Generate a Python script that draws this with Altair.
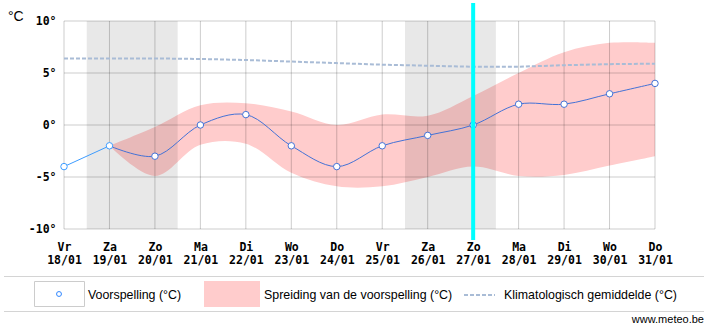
import json
import altair as alt
import pandas as pd

# ---------------- data ----------------
day_names = ["Vr", "Za", "Zo", "Ma", "Di", "Wo", "Do", "Vr", "Za", "Zo", "Ma", "Di", "Wo", "Do"]
day_dates = ["18/01", "19/01", "20/01", "21/01", "22/01", "23/01", "24/01",
             "25/01", "26/01", "27/01", "28/01", "29/01", "30/01", "31/01"]
forecast = [-4, -2, -3, 0, 1, -2, -4, -2, -1, 0, 2, 2, 3, 4]
observed_count = 2
spread_start = 1
spread_low = [-2, -4.9, -1.9, -1.8, -4.6, -5.9, -5.9, -5.0, -4.0, -4.9, -4.8, -3.9, -3.0]
spread_high = [-2, -0.2, 1.9, 2.1, 1.3, 0.0, 1.0, 0.9, 2.8, 5.0, 7.0, 7.9, 7.9]
climate = [6.4, 6.4, 6.4, 6.35, 6.25, 6.1, 5.95, 5.8, 5.7, 5.6, 5.6, 5.75, 5.85, 5.9]
weekend_saturdays = [1, 8]
today_index = 9
y_ticks = [-10, -5, 0, 5, 10]
legend_labels = ["Voorspelling (°C)", "Spreiding van de voorspelling (°C)",
                 "Klimatologisch gemiddelde (°C)"]
unit_label = "°C"
source_label = "www.meteo.be"

# ---------------- styling ----------------
W, H = 591, 208
PINK = "#ffcccc"
LIGHT_BLUE = "#3d9cff"
DARK_BLUE = "#4472d6"
CLIM = "#a9bcd6"
MONO = "DejaVu Sans Mono"
SANS = "Liberation Sans"

idx = list(range(len(day_names)))
n = len(idx)

df_fc = pd.DataFrame({"i": idx, "t": forecast,
                      "kind": ["obs" if i < observed_count else "fc" for i in idx]})
df_spread = pd.DataFrame({"i": list(range(spread_start, spread_start + len(spread_low))),
                          "lo": spread_low, "hi": spread_high})
df_clim = pd.DataFrame({"i": idx, "c": climate})
df_week = pd.DataFrame({"x0": [s - 0.5 for s in weekend_saturdays],
                        "x1": [s + 1.5 for s in weekend_saturdays]})
df_vgrid = pd.DataFrame({"i": idx})
df_hgrid = pd.DataFrame({"v": y_ticks})
df_today = pd.DataFrame({"i": [today_index]})

xscale = alt.Scale(domain=[0, n - 1], nice=False, zero=False)
yscale = alt.Scale(domain=[min(y_ticks), max(y_ticks)], nice=False, zero=False)

label_expr_x = "[{}[datum.value], {}[datum.value]]".format(json.dumps(day_names), json.dumps(day_dates))

xaxis = alt.Axis(values=idx, labelExpr=label_expr_x, title=None, grid=False, ticks=False,
                 domain=False, labelFont=MONO, labelFontWeight="bold", labelFontSize=11.5,
                 labelColor="black", labelPadding=12, labelLineHeight=13,
                 labelOverlap=False, labelBound=False, labelFlush=False, labelAngle=0)
yaxis = alt.Axis(values=y_ticks, labelExpr="datum.value + '°'", title=None, grid=False,
                 ticks=False, domain=False, labelFont=MONO, labelFontWeight="bold",
                 labelFontSize=11.5, labelColor="black", labelPadding=8,
                 labelOverlap=False, labelBound=False, labelFlush=False)


def X(field):
    return alt.X(field, scale=xscale, axis=xaxis, title=None)


def Y(field):
    return alt.Y(field, scale=yscale, axis=yaxis, title=None)


area = alt.Chart(df_spread).mark_area(color=PINK, interpolate="catmull-rom", opacity=1).encode(
    x=X("i:Q"), y=Y("lo:Q"), y2="hi:Q")

weekend = alt.Chart(df_week).mark_rect(color="black", opacity=0.09).encode(
    x=X("x0:Q"), x2="x1:Q", y=alt.value(0), y2=alt.value(H))

vgrid = alt.Chart(df_vgrid).mark_rule(color="black", opacity=0.2, strokeWidth=1).encode(
    x=X("i:Q"))
hgrid = alt.Chart(df_hgrid).mark_rule(color="black", opacity=0.2, strokeWidth=1).encode(
    y=Y("v:Q"))

clim_line = alt.Chart(df_clim).mark_line(color=CLIM, strokeWidth=2, strokeDash=[4, 2]).encode(
    x=X("i:Q"), y=Y("c:Q"))

obs_line = alt.Chart(df_fc[df_fc.i < observed_count]).mark_line(
    color=LIGHT_BLUE, strokeWidth=1, interpolate="catmull-rom").encode(
    x=X("i:Q"), y=Y("t:Q"))
fc_line = alt.Chart(df_fc[df_fc.i >= observed_count - 1]).mark_line(
    color=DARK_BLUE, strokeWidth=1, interpolate="catmull-rom").encode(
    x=X("i:Q"), y=Y("t:Q"))

points = alt.Chart(df_fc).mark_point(shape="circle", fill="white", fillOpacity=1, filled=False,
                                     size=42, strokeWidth=1, opacity=1).encode(
    x=X("i:Q"), y=Y("t:Q"),
    stroke=alt.Stroke("kind:N", scale=alt.Scale(domain=["obs", "fc"], range=[LIGHT_BLUE, DARK_BLUE]),
                      legend=None),
)

today = alt.Chart(df_today).mark_rule(color="#00ffff", strokeWidth=4).encode(
    x=X("i:Q"), y=alt.value(-18), y2=alt.value(219))


# ---------------- titles & legend (pixel layout) ----------------
def text_layer(label, x, y, size, font=SANS, align="left", color="black"):
    return alt.Chart(pd.DataFrame({"label": [label]})).mark_text(
        font=font, fontSize=size, align=align, baseline="middle", color=color).encode(
        x=alt.value(x), y=alt.value(y), text="label:N")


one = pd.DataFrame({"k": [0]})

unit = text_layer(unit_label, -56, -4, 14)

sep1 = alt.Chart(one).mark_rule(color="#d4d4d4", strokeWidth=1).encode(
    x=alt.value(-60), x2=alt.value(640), y=alt.value(255.5))
sep2 = alt.Chart(one).mark_rule(color="#d4d4d4", strokeWidth=1).encode(
    x=alt.value(-60), x2=alt.value(640), y=alt.value(290.5))

box1 = alt.Chart(one).mark_rect(fill="white", stroke="#cccccc", strokeWidth=1).encode(
    x=alt.value(-29.5), x2=alt.value(20.5), y=alt.value(260.5), y2=alt.value(285.5))
dot1 = alt.Chart(one).mark_point(shape="circle", fill="white", fillOpacity=1, filled=False,
                                 size=24, strokeWidth=1, color="#2f86ff").encode(
    x=alt.value(-5), y=alt.value(273))
lab1 = text_layer(legend_labels[0], 24, 274, 12.4)

box2 = alt.Chart(one).mark_rect(fill=PINK).encode(
    x=alt.value(140), x2=alt.value(196), y=alt.value(260), y2=alt.value(286))
lab2 = text_layer(legend_labels[1], 200, 274, 12.4)

dash3 = alt.Chart(one).mark_rule(color=CLIM, strokeWidth=2, strokeDash=[4, 2]).encode(
    x=alt.value(400), x2=alt.value(431), y=alt.value(274))
lab3 = text_layer(legend_labels[2], 440, 274, 12.4)

src = text_layer(source_label, 640, 299, 11, align="right")

chart = alt.layer(
    area, weekend, vgrid, hgrid, clim_line, obs_line, fc_line, points, today,
    unit, sep1, sep2, box1, dot1, lab1, box2, lab2, dash3, lab3, src,
).properties(
    width=W, height=H,
    autosize=alt.AutoSizeParams(type="none"),
    padding={"left": 64, "top": 21, "right": 62, "bottom": 100},
    background="white",
).configure_view(stroke=None)

chart.save("out.html", embed_options={"renderer": "svg", "actions": False})
